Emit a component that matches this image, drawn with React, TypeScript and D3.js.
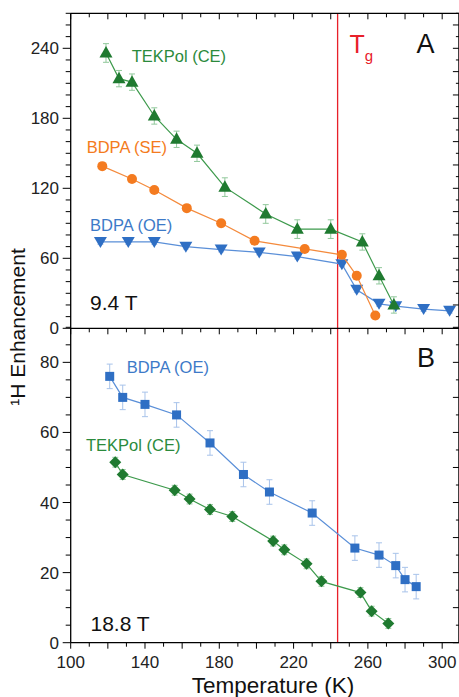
import React from "react";
import * as d3 from "d3";

// ---- Data ----
const tekpolA_T = [119, 126, 133, 145, 157, 168, 183, 205, 222, 240, 257, 266, 274];
const tekpolA_V = [236, 214, 211, 182, 162, 150, 121, 98, 85, 85, 74, 45, 20];
const tekpolA_E = [8, 7, 7, 7, 7, 7, 8, 8, 8, 8, 7, 7, 7];

const bdpaSE_T = [117, 133, 145, 162.5, 181, 199, 226, 246, 254, 264];
const bdpaSE_V = [139, 128, 118.5, 103, 90, 75, 68, 63, 45, 11];
const bdpaSE_E = [3, 3, 3, 3, 3, 3, 3, 3, 3, 3];

const bdpaOEA_T = [116, 131, 145, 162, 181, 201.5, 222, 246, 254, 266, 275, 290, 304];
const bdpaOEA_V = [74, 74, 74, 70, 67.5, 65, 61.5, 55, 33, 21, 19, 16.5, 15];
const bdpaOEA_E = [2, 2, 2, 2, 2, 2, 2, 2, 2, 2, 2, 2, 2];

const bdpaOEB_T = [121, 128, 140, 157, 175, 193, 207, 230, 253, 266, 275, 280, 286];
const bdpaOEB_V = [76, 70, 68, 65, 57, 48, 43, 37, 27, 25, 22, 18, 16];
const bdpaOEB_E = [3.5, 3.5, 3.5, 3.5, 3.5, 3.5, 3.5, 3.5, 3.5, 3.5, 3.5, 3.5, 3.5];

const tekpolB_T = [124, 128, 156, 164, 175, 187, 209, 215, 227, 235, 256, 262, 271];
const tekpolB_V = [51.5, 48, 43.5, 41, 38, 36, 29, 26.5, 22.5, 17.5, 14.3, 9, 5.5];
const tekpolB_E = [1.4, 1.4, 1.4, 1.4, 1.4, 1.4, 1.4, 1.4, 1.4, 1.4, 1.4, 1.4, 1.4];

const Tg = 243.7;

const xTickLabels = [100, 140, 180, 220, 260, 300];
const yTickLabelsA = [0, 60, 120, 180, 240];
const yTickLabelsB = [0, 20, 40, 60, 80];

// ---- Layout ----
const W = 459, H = 697;
const x = d3.scaleLinear().domain([100, 309]).range([70.7, 458.9]);
const yA = d3.scaleLinear().domain([0, 270]).range([328.3, 13.3]);
const yB = d3.scaleLinear().domain([0, 90]).range([642.7, 327.3]);

const FONT = "'Liberation Sans', Arial, Helvetica, sans-serif";

const GREEN = "#1f7a30";
const GREEN_LINE = "#3d9a4c";
const GREEN_ERR = "#92c89c";
const GREEN_TXT = "#2b8a3c";
const ORANGE = "#f47b20";
const ORANGE_LINE = "#f48a3c";
const ORANGE_ERR = "#f9bd90";
const BLUE = "#2f6fc4";
const BLUE_LINE = "#5a8fd8";
const BLUE_ERR = "#a8c3ea";
const BLUE_TXT = "#3d7ac8";
const RED = "#e8202a";

type Shape = "tri" | "tridown" | "circle" | "square" | "diamond";

function Marker({ cx, cy, shape, fill }: { cx: number; cy: number; shape: Shape; fill: string }) {
  if (shape === "circle") return <circle cx={cx} cy={cy} r={5} fill={fill} />;
  if (shape === "square") return <rect x={cx - 4.5} y={cy - 4.5} width={9} height={9} fill={fill} />;
  if (shape === "diamond") {
    const s = 6;
    return <path d={`M${cx},${cy - s}L${cx + s},${cy}L${cx},${cy + s}L${cx - s},${cy}Z`} fill={fill} />;
  }
  if (shape === "tri") {
    return <path d={`M${cx},${cy - 7}L${cx + 6.5},${cy + 4.5}L${cx - 6.5},${cy + 4.5}Z`} fill={fill} />;
  }
  return <path d={`M${cx},${cy + 6}L${cx + 6.5},${cy - 5}L${cx - 6.5},${cy - 5}Z`} fill={fill} />;
}

function Series({ T, V, E, y, shape, fill, line, err }: {
  T: number[]; V: number[]; E: number[]; y: d3.ScaleLinear<number, number>;
  shape: Shape; fill: string; line: string; err: string;
}) {
  const pts = T.map((t, i) => [t, V[i]] as [number, number]);
  const gen = d3.line<[number, number]>().x((d) => x(d[0])).y((d) => y(d[1]));
  return (
    <g>
      {pts.map((p, i) => {
        const cx = x(p[0]);
        const y1 = y(p[1] + E[i]);
        const y2 = y(p[1] - E[i]);
        return (
          <g key={"e" + i} stroke={err} strokeWidth={1}>
            <line x1={cx} x2={cx} y1={y1} y2={y2} />
            <line x1={cx - 3} x2={cx + 3} y1={y1} y2={y1} />
            <line x1={cx - 3} x2={cx + 3} y1={y2} y2={y2} />
          </g>
        );
      })}
      <path d={gen(pts) || ""} fill="none" stroke={line} strokeWidth={1.2} />
      {pts.map((p, i) => (
        <Marker key={"m" + i} cx={x(p[0])} cy={y(p[1])} shape={shape} fill={fill} />
      ))}
    </g>
  );
}

export default function App() {
  const x0 = x.range()[0], x1 = x.range()[1];
  const xMinor = d3.range(100, 310, 10);
  const yAticks = d3.range(0, 271, 10);
  const yBticks = d3.range(0, 91, 5);
  return (
    <svg width={W} height={H} style={{ position: "absolute", left: 0, top: 0, background: "#fff" }} fontFamily={FONT}>
      {/* Tg line */}
      <line x1={x(Tg)} x2={x(Tg)} y1={yA.range()[1]} y2={yB.range()[0]} stroke={RED} strokeWidth={1.3} />

      {/* Panel A series */}
      <Series T={bdpaOEA_T} V={bdpaOEA_V} E={bdpaOEA_E} y={yA} shape="tridown" fill={BLUE} line={BLUE_LINE} err={BLUE_ERR} />
      <Series T={bdpaSE_T} V={bdpaSE_V} E={bdpaSE_E} y={yA} shape="circle" fill={ORANGE} line={ORANGE_LINE} err={ORANGE_ERR} />
      <Series T={tekpolA_T} V={tekpolA_V} E={tekpolA_E} y={yA} shape="tri" fill={GREEN} line={GREEN_LINE} err={GREEN_ERR} />

      {/* Panel B series */}
      <Series T={bdpaOEB_T} V={bdpaOEB_V} E={bdpaOEB_E} y={yB} shape="square" fill={BLUE} line={BLUE_LINE} err={BLUE_ERR} />
      <Series T={tekpolB_T} V={tekpolB_V} E={tekpolB_E} y={yB} shape="diamond" fill={GREEN} line={GREEN_LINE} err={GREEN_ERR} />

      {/* Frames */}
      <g stroke="#000" strokeWidth={1.3} fill="none">
        <line x1={x0} x2={x1} y1={yA.range()[1]} y2={yA.range()[1]} />
        <line x1={x0} x2={x1} y1={yA(0)} y2={yA(0)} />
        <line x1={x0} x2={x1} y1={yB(0)} y2={yB(0)} />
        <line x1={x0} x2={x0} y1={yA.range()[1]} y2={yB(0)} />
        <line x1={x1} x2={x1} y1={yA.range()[1]} y2={yB(0)} />
      </g>

      {/* X ticks */}
      <g stroke="#000" strokeWidth={1}>
        {xMinor.map((t) => {
          const major = t % 20 === 0;
          const L = major ? 6 : 4;
          const px = x(t);
          return (
            <g key={"xt" + t}>
              <line x1={px} x2={px} y1={yA.range()[1]} y2={yA.range()[1] + L} />
              <line x1={px} x2={px} y1={yA(0)} y2={yA(0) + L} />
              <line x1={px} x2={px} y1={yB(0)} y2={yB(0) + L} />
            </g>
          );
        })}
      </g>

      {/* Y ticks A */}
      <g stroke="#000" strokeWidth={1}>
        {yAticks.map((v) => {
          const py = yA(v);
          const lab = v % 60 === 0;
          return (
            <g key={"ya" + v}>
              <line x1={x0 - (lab ? 8 : 5)} x2={x0} y1={py} y2={py} />
              <line x1={x1 - (v % 20 === 0 ? 6 : 3)} x2={x1} y1={py} y2={py} />
            </g>
          );
        })}
        {yBticks.map((v) => {
          const py = yB(v);
          const lab = v % 20 === 0;
          return (
            <g key={"yb" + v}>
              <line x1={x0 - (lab ? 8 : 5)} x2={x0} y1={py} y2={py} />
              <line x1={x1 - (v % 10 === 0 ? 6 : 3)} x2={x1} y1={py} y2={py} />
            </g>
          );
        })}
      </g>

      {/* Tick labels */}
      <g fontSize={17} fill="#222">
        {xTickLabels.map((t) => (
          <text key={"xl" + t} x={x(t)} y={668} textAnchor="middle">{t}</text>
        ))}
        {yTickLabelsA.map((v) => (
          <text key={"yla" + v} x={59} y={yA(v) + 6} textAnchor="end">{v}</text>
        ))}
        {yTickLabelsB.map((v) => (
          <text key={"ylb" + v} x={59} y={yB(v) + 6} textAnchor="end">{v}</text>
        ))}
      </g>

      {/* Axis titles */}
      <text x={273} y={693} fontSize={22.5} textAnchor="middle" fill="#111">Temperature (K)</text>
      <text transform="translate(25,327) rotate(-90)" fontSize={21} textAnchor="middle" fill="#111">¹H Enhancement</text>

      {/* Annotations */}
      <text x={131.7} y={61.5} fontSize={16.5} fill={GREEN_TXT}>TEKPol (CE)</text>
      <text x={86.7} y={153.3} fontSize={16.5} fill={ORANGE}>BDPA (SE)</text>
      <text x={90} y={231} fontSize={16.5} fill={BLUE_TXT}>BDPA (OE)</text>
      <text x={90} y={310} fontSize={21} fill="#111">9.4 T</text>
      <text x={126.7} y={372.7} fontSize={16.5} fill={BLUE_TXT}>BDPA (OE)</text>
      <text x={86} y={450.7} fontSize={16.5} fill={GREEN_TXT}>TEKPol (CE)</text>
      <text x={90.5} y={630.7} fontSize={21} fill="#111">18.8 T</text>
      <text x={416.5} y={53.3} fontSize={27} fill="#111">A</text>
      <text x={417} y={366.7} fontSize={27} fill="#111">B</text>
      <text x={349.5} y={53.3} fontSize={25} fill={RED}>
        T<tspan fontSize={15} dy={8}>g</tspan>
      </text>
    </svg>
  );
}
